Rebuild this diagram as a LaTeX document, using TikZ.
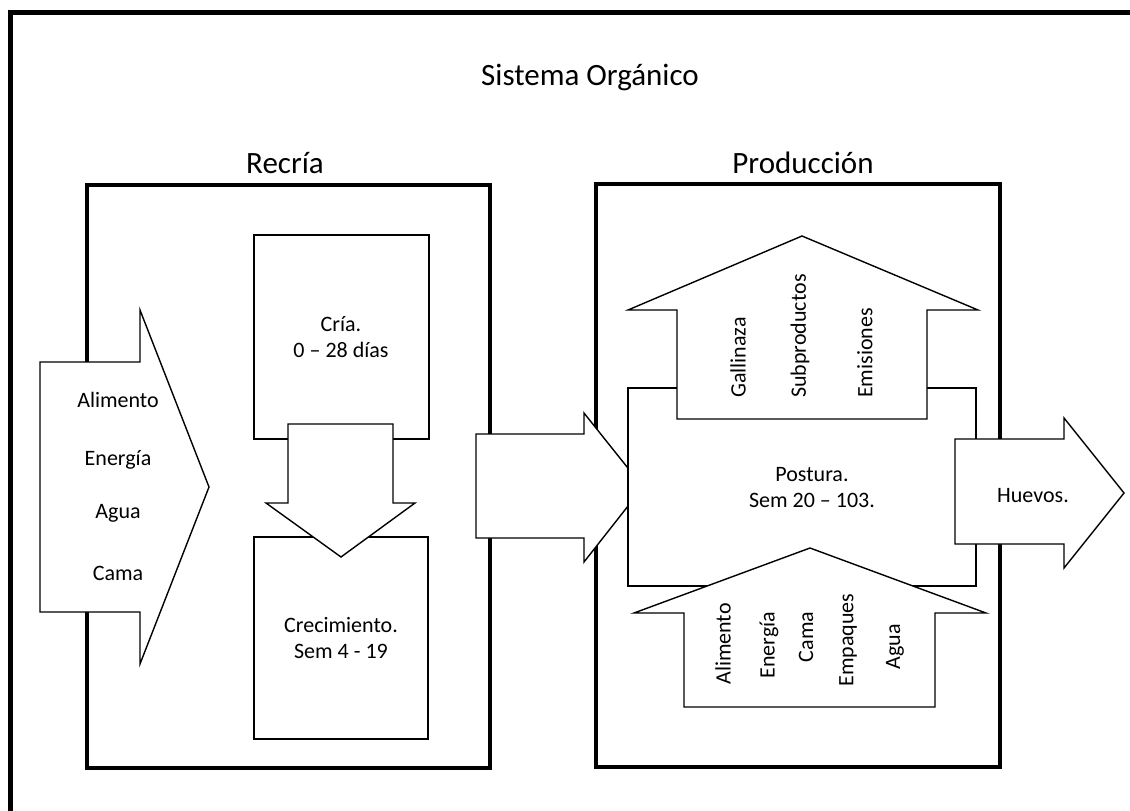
\documentclass[tikz,border=0pt]{standalone}
\usepackage{fontspec}
\setmainfont{Carlito}

\tikzset{
  frame/.style={line width=5pt},
  stagebox/.style={draw, line width=3.8pt},
  panel/.style={draw, line width=1.4pt, fill=white},
  blockarrow/.style={draw, line width=1.4pt, fill=white, line join=miter},
  lbl/.style={font=\fontsize{22}{26}\selectfont, align=center, inner sep=0pt},
  ttl/.style={font=\fontsize{31}{36}\selectfont, inner sep=0pt},
}

\begin{document}
\begin{tikzpicture}[x=1pt,y=-1pt]
            \useasboundingbox (0,0) rectangle (1130,811);
            \clip (0,0) rectangle (1130,811);
            % frames
            \draw[frame] (10,12) rectangle (1200,900);
            \draw[stagebox] (87,185) rectangle (490,768);
            \draw[stagebox] (596,184) rectangle (1000,767);
            \node[ttl] (sistema) at (590,77) {Sistema Orgánico};
            \node[ttl] (recria) at (285,163) {Recría};
            \node[ttl] (produccion) at (803,163) {Producción};
            % recria
            \draw[panel] (254,235) rectangle (429,439);
            \draw[panel] (254,537) rectangle (428,739);
            \node[lbl] (cria) at (341,337) {Cría.\\0 -- 28 días};
            \node[lbl] (crecimiento) at (341,638) {Crecimiento.\\Sem 4 - 19};
            \draw[blockarrow] (288,424) -- (393,424) -- (393,503) -- (415,503) -- (341,557)
              -- (266,503) -- (288,503) -- cycle;
            % entradas
            \draw[blockarrow] (40,362) -- (140,362) -- (140,310) -- (209,487) -- (140,664)
              -- (140,612) -- (40,612) -- cycle;
            \node[lbl] (alimento) at (118,400) {Alimento};
            \node[lbl] (energia) at (118,460) {Energía};
            \node[lbl] (agua) at (118,513) {Agua};
            \node[lbl] (cama) at (118,573) {Cama};
            % paso a produccion
            \draw[blockarrow] (476,434) -- (584,434) -- (584,413) -- (643,487) -- (584,562)
              -- (584,538) -- (476,538) -- cycle;
            % produccion
            \draw[panel] (628,388) rectangle (976,586);
            \node[lbl] (postura) at (812,488) {Postura.\\Sem 20 -- 103.};
            \draw[blockarrow] (677,419) -- (677,310) -- (628,310) -- (802,236) -- (978,310)
              -- (927,310) -- (927,419) -- cycle;
            \node[lbl, rotate=90, anchor=west] (gallinaza) at (738,398) {Gallinaza};
            \node[lbl, rotate=90, anchor=west] (subproductos) at (800,398) {Subproductos};
            \node[lbl, rotate=90, anchor=west] (emisiones) at (865,398) {Emisiones};
            \draw[blockarrow] (684,707) -- (684,613) -- (634,613) -- (810,548) -- (986,613)
              -- (935,613) -- (935,707) -- cycle;
            \node[lbl, rotate=90] (alimentoP) at (723,644) {Alimento};
            \node[lbl, rotate=90] (energiaP) at (769,645) {Energía};
            \node[lbl, rotate=90] (camaP) at (806,637) {Cama};
            \node[lbl, rotate=90] (empaques) at (848,640) {Empaques};
            \node[lbl, rotate=90] (aguaP) at (895,647) {Agua};
            % salida
            \draw[blockarrow] (955,439) -- (1064,439) -- (1064,418) -- (1124,493) -- (1064,568)
              -- (1064,544) -- (955,544) -- cycle;
            \node[lbl] (huevos) at (1033,496) {Huevos.};
        \end{tikzpicture}
\end{document}
